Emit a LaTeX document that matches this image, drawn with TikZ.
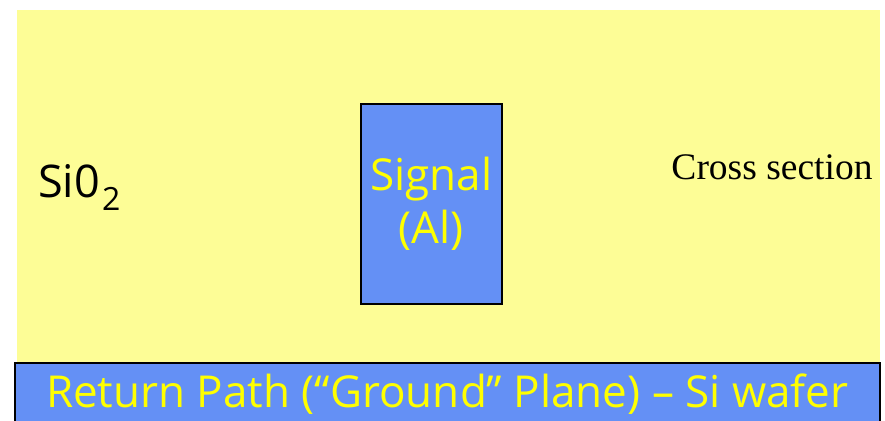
\documentclass[tikz,border=0pt]{standalone}
\usepackage{fontspec}
\setmainfont{Liberation Serif}
\setsansfont{Open Sans}
\usetikzlibrary{positioning}
\definecolor{oxide}{HTML}{FDFD96}
\definecolor{metal}{HTML}{6490F5}
\definecolor{label}{HTML}{FFFF00}
\tikzset{
  layer/.style={draw=black, fill=metal, line width=1.5pt, inner sep=0pt, align=center},
  metaltext/.style={font=\sffamily\fontsize{44}{53}\selectfont, text=label},
  darktext/.style={font=\sffamily\fontsize{45}{50}\selectfont, text=black},
  note/.style={font=\rmfamily\fontsize{37.5}{40}\selectfont, text=black},
}
\begin{document}
\begin{tikzpicture}[x=1pt, y=-1pt]
  \clip (0,0) rectangle (885,420);
  % dielectric
  \fill[oxide] (17,10) rectangle (880,362);
  \node[darktext, anchor=base west, inner sep=0pt] (sio) at (38,197) {Si0\hspace{2pt}\raisebox{-13pt}{\fontsize{32}{32}\selectfont 2}};
  \node[note, anchor=base, inner sep=0pt] (view) at (772,179) {Cross section};
  % conductors
  \node[layer, metaltext, anchor=north west, minimum width=141pt, minimum height=200pt] (signal) at (360,103) {Signal\\(Al)};
  \node[layer, metaltext, anchor=north west, minimum width=865pt, minimum height=62pt] (ground) at (14,362) {Return Path (“Ground” Plane) – Si wafer};
\end{tikzpicture}
\end{document}
